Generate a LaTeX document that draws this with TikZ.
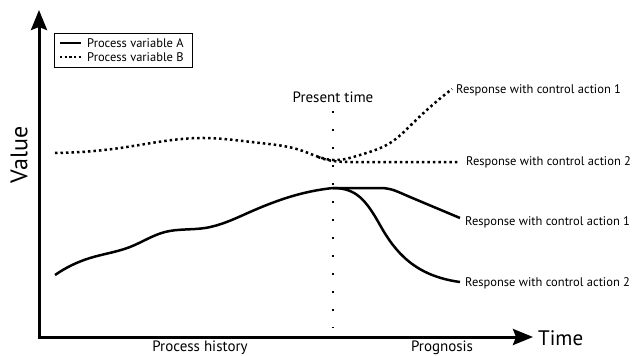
\documentclass[tikz,border=0pt]{standalone}
\usepackage{fontspec}
\setmainfont{PT Sans}
\usetikzlibrary{arrows.meta,hobby}

\tikzset{
  axis/.style={line width=3pt,-{Stealth[length=20pt,width=16pt,inset=3pt]}},
  varA/.style={line width=2.5pt},
  varB/.style={line width=2.5pt,dash pattern=on 2.5pt off 3pt},
  lbl/.style={inner sep=0pt,font=\fontsize{12.5}{14}\selectfont},
}

\begin{document}
\begin{tikzpicture}[x=1pt,y=-1pt]
\useasboundingbox (0,0) rectangle (635,356);
\coordinate (origin) at (39,337);
\coordinate (ytop) at (39,10);
\coordinate (xend) at (533,337);
\draw[axis] (origin |- 0,339) -- (ytop);
\draw[axis] (37.5,337) -- (xend);

% present time
\node[lbl,font=\fontsize{15}{17}\selectfont] (present) at (333,97) {Present time};
\coordinate (now) at (333,328);
\draw[line width=2pt,dash pattern=on 2pt off 16pt] (present.south |- 0,111) -- (now);

% variable B
\draw[varB,use Hobby shortcut] (55,153) .. (120,148) .. (200,138) .. (260,143) .. (300,150) .. (333,160) .. (360,155) .. (390,143) .. (413,123) .. (452,89);
\draw[varB] (318,157) .. controls (328,161) and (338,162) .. (350,162) -- (458,162);

% variable A
\draw[varA,use Hobby shortcut] (55,275) .. (90,258) .. (130,247) .. (165,232) .. (205,228) .. (250,212) .. (300,194) .. (333,188);
\draw[varA] (333,188) -- (380,188) .. controls (392,188) and (398,192) .. (410,197) -- (460,218);
\draw[varA] (333,188) .. controls (356,188) and (366,200) .. (380,225) .. controls (395,252) and (415,276) .. (460,282);

% labels
\node[lbl,anchor=west] (r1b) at (456,90) {Response with control action 1};
\node[lbl,anchor=west] (r2b) at (466,162) {Response with control action 2};
\node[lbl,anchor=west] (r1a) at (465,222) {Response with control action 1};
\node[lbl,anchor=west] (r2a) at (465,283) {Response with control action 2};

\node[lbl,font=\fontsize{21}{23}\selectfont,anchor=west] (time) at (538,338) {Time};
\node[lbl,font=\fontsize{24}{26}\selectfont,rotate=90] (value) at (19,155) {Value};
\node[lbl,font=\fontsize{15}{17}\selectfont] (history) at (200,348) {Process history};
\node[lbl,font=\fontsize{15}{17}\selectfont] (prognosis) at (442,348) {Prognosis};

% legend
\draw[line width=0.8pt] (54,33) rectangle (192,67);
\draw[varA,line width=2.2pt] (60,43) -- (81,43);
\draw[varB,line width=2.2pt,dash pattern=on 2.2pt off 2.5pt] (60,57) -- (81,57);
\node[lbl,anchor=west] (legA) at (87,43) {Process variable A};
\node[lbl,anchor=west] (legB) at (87,57) {Process variable B};
\end{tikzpicture}
\end{document}
